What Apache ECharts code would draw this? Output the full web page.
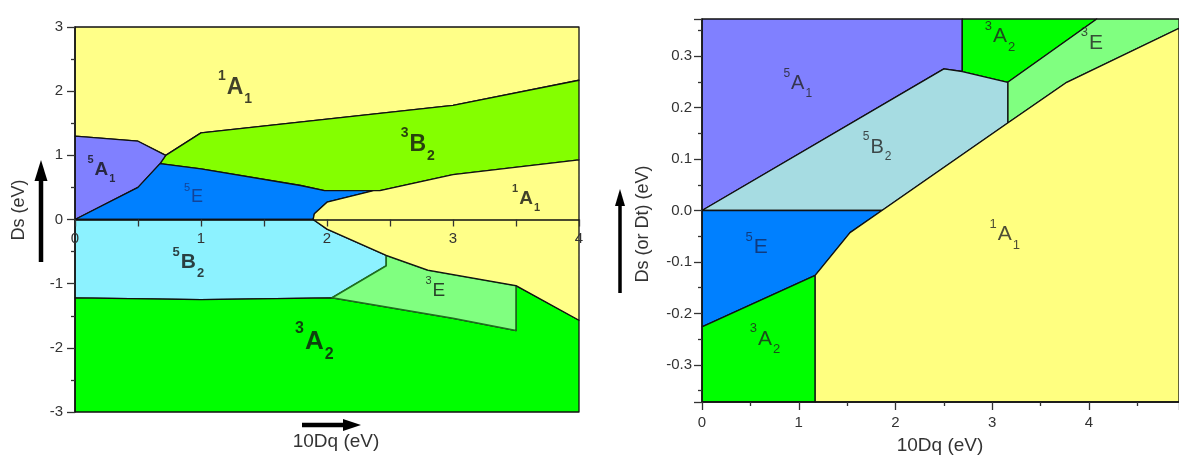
<!DOCTYPE html>
<html>
<head>
<meta charset="utf-8">
<script src="https://cdn.jsdelivr.net/npm/echarts@6/dist/echarts.min.js"></script>
<style>
html,body{margin:0;padding:0;background:#fff;}
#chart{width:1179px;height:461px;}
</style>
</head>
<body>
<div id="chart"></div>
<script>
// ---------- DATA: left diagram (Ds vs 10Dq), region outlines [10Dq, Ds] ----------
const left_1A1_high = [[0,3],[4,3],[4,2.17],[3,1.78],[1,1.35],[0.72,1.0],[0.5,1.22],[0,1.30]];
const left_3B2 = [[0.675,0.87],[0.72,1.0],[1.0,1.35],[3.0,1.78],[4.0,2.17],[4.0,0.93],[3.0,0.70],[2.42,0.45],[2.37,0.45],[1.98,0.45],[1.79,0.53],[1.0,0.79]];
const left_5A1 = [[0,0],[0,1.30],[0.5,1.22],[0.72,1.0],[0.675,0.87],[0.5,0.5]];
const left_5E = [[0,0],[0.5,0.5],[0.675,0.87],[1.0,0.79],[1.79,0.53],[1.98,0.45],[2.37,0.45],[2.0,0.27],[1.9,0.09],[1.89,0]];
const left_5B2 = [[0,0],[1.89,0],[2.0,-0.15],[2.47,-0.56],[2.47,-0.72],[2.04,-1.22],[1.0,-1.25],[0,-1.22]];
const left_3A2 = [[0,-1.22],[1.0,-1.25],[2.04,-1.22],[3.0,-1.54],[3.5,-1.73],[3.5,-1.03],[4,-1.57],[4,-3],[0,-3]];
const left_3E = [[2.04,-1.22],[2.47,-0.72],[2.47,-0.56],[2.8,-0.79],[3.5,-1.03],[3.5,-1.73],[3.0,-1.54]];
const left_1A1_low = [[2.37,0.45],[2.42,0.45],[3.0,0.70],[4.0,0.93],[4.0,-1.57],[3.5,-1.03],[2.8,-0.79],[2.47,-0.56],[2.0,-0.15],[1.89,0],[1.9,0.09],[2.0,0.27]];

// term labels of left diagram: [spin multiplicity, symbol, subscript]
const leftLabelTerms = [['1','A','1'],['3','B','2'],['1','A','1'],['5','A','1'],['5','E',''],['5','B','2'],['3','E',''],['3','A','2']];
const leftLabelX = [1.27, 2.72, 3.58, 0.21, 0.94, 0.90, 2.86, 1.90];
const leftLabelY = [2.06, 1.17, 0.33, 0.78, 0.35, -0.67, -1.11, -1.90];

// ---------- DATA: right diagram (Ds or Dt vs 10Dq) ----------
const right_5A1 = [[0,0],[0,0.372],[2.69,0.372],[2.69,0.27],[2.50,0.275]];
const right_3A2_top = [[2.69,0.372],[4.08,0.372],[3.16,0.249],[2.69,0.27]];
const right_3E = [[3.16,0.249],[4.08,0.372],[4.93,0.372],[4.93,0.354],[3.77,0.249],[3.16,0.17]];
const right_5B2 = [[0,0],[2.50,0.275],[2.69,0.27],[3.16,0.249],[3.16,0.17],[1.86,0]];
const right_5E = [[0,0],[1.86,0],[1.53,-0.043],[1.17,-0.126],[0,-0.226]];
const right_3A2_low = [[0,-0.226],[1.17,-0.126],[1.17,-0.372],[0,-0.372]];
const right_1A1 = [[1.17,-0.372],[1.17,-0.126],[1.53,-0.043],[1.86,0],[3.16,0.17],[3.77,0.249],[4.93,0.354],[4.93,-0.372]];

const rightLabelTerms = [['5','A','1'],['5','B','2'],['3','A','2'],['3','E',''],['5','E',''],['3','A','2'],['1','A','1']];
const rightLabelX = [0.99, 1.81, 3.08, 4.03, 0.565, 0.65, 3.13];
const rightLabelY = [0.246, 0.123, 0.338, 0.325, -0.072, -0.25, -0.0465];

// axis ranges
const leftX = [0, 4], leftY = [-3, 3];
const rightX = [0, 4.93], rightY = [-0.372, 0.372];

// ---------- STYLE ----------
const FONT = "'Liberation Sans', Arial, sans-serif";
const leftLabelSize = [23, 23, 19, 19, 18, 21, 19, 26];
const leftLabelBold = [true, true, true, true, false, true, false, true];
const leftLabelColor = ['#111','#111','#111','#111','#16347e','#111','#111','#111'];
const rightLabelSize = [20, 20, 21, 21, 21, 21, 21];
const rightLabelColor = ['#222','#222','#222','#222','#14285c','#222','#222'];

function region(pts, fill, gi, stroke, lw) {
  return {
    type: 'custom', xAxisIndex: gi, yAxisIndex: gi, silent: true,
    data: pts, encode: {x: 0, y: 1}, z: 2,
    renderItem: function (params, api) {
      if (params.dataIndex !== 0) return null;
      return {
        type: 'polygon',
        shape: {points: pts.map(function (p) { return api.coord(p); })},
        style: {fill: fill, stroke: stroke || '#111', lineWidth: lw || 1.3, lineJoin: 'round'}
      };
    }
  };
}

function labelSeries(terms, xs, ys, sizes, bolds, colors, gi) {
  const data = terms.map(function (t, i) {
    const s = sizes[i];
    const f = Math.round(s * 0.6);
    const w = bolds[i] ? 'bold' : 'normal';
    const L = Math.round(s * 1.6);
    let txt = '{sup|' + t[0] + '}{m|' + t[1] + '}';
    if (t[2]) txt += '{sub|' + t[2] + '}';
    return {
      value: [xs[i], ys[i]],
      label: {
        formatter: txt,
        rich: {
          sup: {fontSize: f, fontWeight: w, color: colors[i], fontFamily: FONT, verticalAlign: 'top', lineHeight: f, padding: [0, 1, 0, 0]},
          m: {fontSize: s, fontWeight: w, color: colors[i], fontFamily: FONT, lineHeight: L},
          sub: {fontSize: f, fontWeight: w, color: colors[i], fontFamily: FONT, verticalAlign: 'bottom', lineHeight: f, padding: [0, 0, 0, 1]}
        }
      }
    };
  });
  return {
    type: 'scatter', xAxisIndex: gi, yAxisIndex: gi, silent: true, z: 5,
    symbolSize: 1, itemStyle: {color: 'rgba(0,0,0,0)'},
    label: {show: true, position: 'inside', align: 'center', verticalAlign: 'middle'},
    emphasis: {disabled: true},
    data: data
  };
}

const tickLbl = {color: '#333', fontSize: 15, fontFamily: FONT};
const axLine = {lineStyle: {color: '#111', width: 1.5}};
const tickStyle = {color: '#333', width: 1.3};
const hiddenAxis = {show: false};

const option = {
  backgroundColor: '#fff',
  animation: false,
  grid: [
    {left: 75, top: 27, width: 504, height: 385, containLabel: false, outerBoundsMode: 'none'},
    {left: 702, top: 19, width: 477, height: 383, containLabel: false, outerBoundsMode: 'none'},
    // upper half of the left diagram: its bottom edge is the Ds = 0 line, where the 10Dq axis sits
    {left: 75, top: 27, width: 504, height: 192.5, containLabel: false, outerBoundsMode: 'none'}
  ],
  xAxis: [
    {gridIndex: 0, type: 'value', min: leftX[0], max: leftX[1], interval: 1, show: false},
    {gridIndex: 1, type: 'value', min: rightX[0], max: rightX[1], splitNumber: 6, z: 10,
     axisLine: {show: true, onZero: false, lineStyle: axLine.lineStyle},
     axisTick: {show: true, inside: false, length: 8, lineStyle: tickStyle},
     minorTick: {show: true, splitNumber: 2, length: 4, lineStyle: tickStyle},
     axisLabel: Object.assign({margin: 13, showMaxLabel: false,
       formatter: function (v) { return Math.abs(v - Math.round(v)) < 1e-6 ? String(Math.round(v)) : ''; }}, tickLbl),
     splitLine: {show: false}, minorSplitLine: {show: false}},
    {gridIndex: 2, type: 'value', min: leftX[0], max: leftX[1], interval: 1, z: 10, position: 'bottom',
     axisLine: {show: true, onZero: false, lineStyle: axLine.lineStyle},
     axisTick: {show: true, inside: false, length: 7, lineStyle: tickStyle},
     minorTick: {show: true, splitNumber: 2, length: 7, lineStyle: tickStyle},
     axisLabel: Object.assign({margin: 12}, tickLbl),
     splitLine: {show: false}, minorSplitLine: {show: false}}
  ],
  yAxis: [
    {gridIndex: 0, type: 'value', min: leftY[0], max: leftY[1], interval: 1, z: 10,
     axisLine: {show: true, onZero: false, lineStyle: axLine.lineStyle},
     axisTick: {show: true, inside: false, length: 8, lineStyle: tickStyle},
     minorTick: {show: true, splitNumber: 2, length: 4, lineStyle: tickStyle},
     axisLabel: Object.assign({margin: 12}, tickLbl),
     splitLine: {show: false}, minorSplitLine: {show: false}},
    {gridIndex: 1, type: 'value', min: rightY[0], max: rightY[1], splitNumber: 6, z: 10,
     axisLine: {show: true, onZero: false, lineStyle: axLine.lineStyle},
     axisTick: {show: true, inside: false, length: 8, lineStyle: tickStyle},
     minorTick: {show: true, splitNumber: 2, length: 4, lineStyle: tickStyle},
     axisLabel: Object.assign({margin: 10, showMinLabel: false, showMaxLabel: false,
       formatter: function (v) { return (Math.abs(v) < 1e-9 ? 0 : v).toFixed(1); }}, tickLbl),
     splitLine: {show: false}, minorSplitLine: {show: false}},
    {gridIndex: 2, type: 'value', min: 0, max: leftY[1], show: false}
  ],
  series: [
    region(left_1A1_high, '#ffff88', 0),
    region(left_3B2, '#84ff00', 0),
    region(left_5A1, '#8080ff', 0),
    region(left_5E, '#0080ff', 0),
    region(left_5B2, '#8cf2ff', 0),
    region(left_3A2, '#00ff00', 0),
    region(left_3E, '#80ff80', 0, '#1f6f1f', 1.6),
    region(left_1A1_low, '#ffff88', 0),
    region(right_5A1, '#8080ff', 1),
    region(right_3A2_top, '#00ff00', 1),
    region(right_3E, '#80ff80', 1),
    region(right_5B2, '#a6dce2', 1),
    region(right_5E, '#0080ff', 1),
    region(right_3A2_low, '#00ff00', 1),
    region(right_1A1, '#ffff80', 1),
    labelSeries(leftLabelTerms, leftLabelX, leftLabelY, leftLabelSize, leftLabelBold, leftLabelColor, 0),
    labelSeries(rightLabelTerms, rightLabelX, rightLabelY, rightLabelSize, rightLabelTerms.map(function(){return false;}), rightLabelColor, 1)
  ],
  graphic: [
    // left vertical arrow
    {type: 'line', shape: {x1: 41, y1: 262, x2: 41, y2: 176}, style: {stroke: '#000', lineWidth: 4.5}, silent: true},
    {type: 'polygon', shape: {points: [[41, 160], [34.5, 181], [47.5, 181]]}, style: {fill: '#000'}, silent: true},
    // left horizontal arrow
    {type: 'line', shape: {x1: 302, y1: 425, x2: 348, y2: 425}, style: {stroke: '#000', lineWidth: 4.5}, silent: true},
    {type: 'polygon', shape: {points: [[361, 425], [343, 419], [343, 431]]}, style: {fill: '#000'}, silent: true},
    // right vertical arrow (partly visible)
    {type: 'line', shape: {x1: 620, y1: 293, x2: 620, y2: 203}, style: {stroke: '#000', lineWidth: 3.5}, silent: true},
    {type: 'polygon', shape: {points: [[620, 189], [615, 206], [625, 206]]}, style: {fill: '#000'}, silent: true},
    // axis titles
    {type: 'text', x: 19, y: 210, rotation: Math.PI / 2, silent: true,
     style: {text: 'Ds (eV)', fill: '#333', font: '18px ' + FONT, textAlign: 'center', textVerticalAlign: 'middle'}},
    {type: 'text', x: 336, y: 442, silent: true,
     style: {text: '10Dq (eV)', fill: '#333', font: '19px ' + FONT, textAlign: 'center', textVerticalAlign: 'middle'}},
    {type: 'text', x: 643, y: 224, rotation: Math.PI / 2, silent: true,
     style: {text: 'Ds (or Dt) (eV)', fill: '#333', font: '18px ' + FONT, textAlign: 'center', textVerticalAlign: 'middle'}},
    {type: 'text', x: 940, y: 446, silent: true,
     style: {text: '10Dq (eV)', fill: '#333', font: '19px ' + FONT, textAlign: 'center', textVerticalAlign: 'middle'}}
  ]
};

const chart = echarts.init(document.getElementById('chart'), null, {renderer: 'canvas'});
chart.setOption(option);
</script>
</body>
</html>
